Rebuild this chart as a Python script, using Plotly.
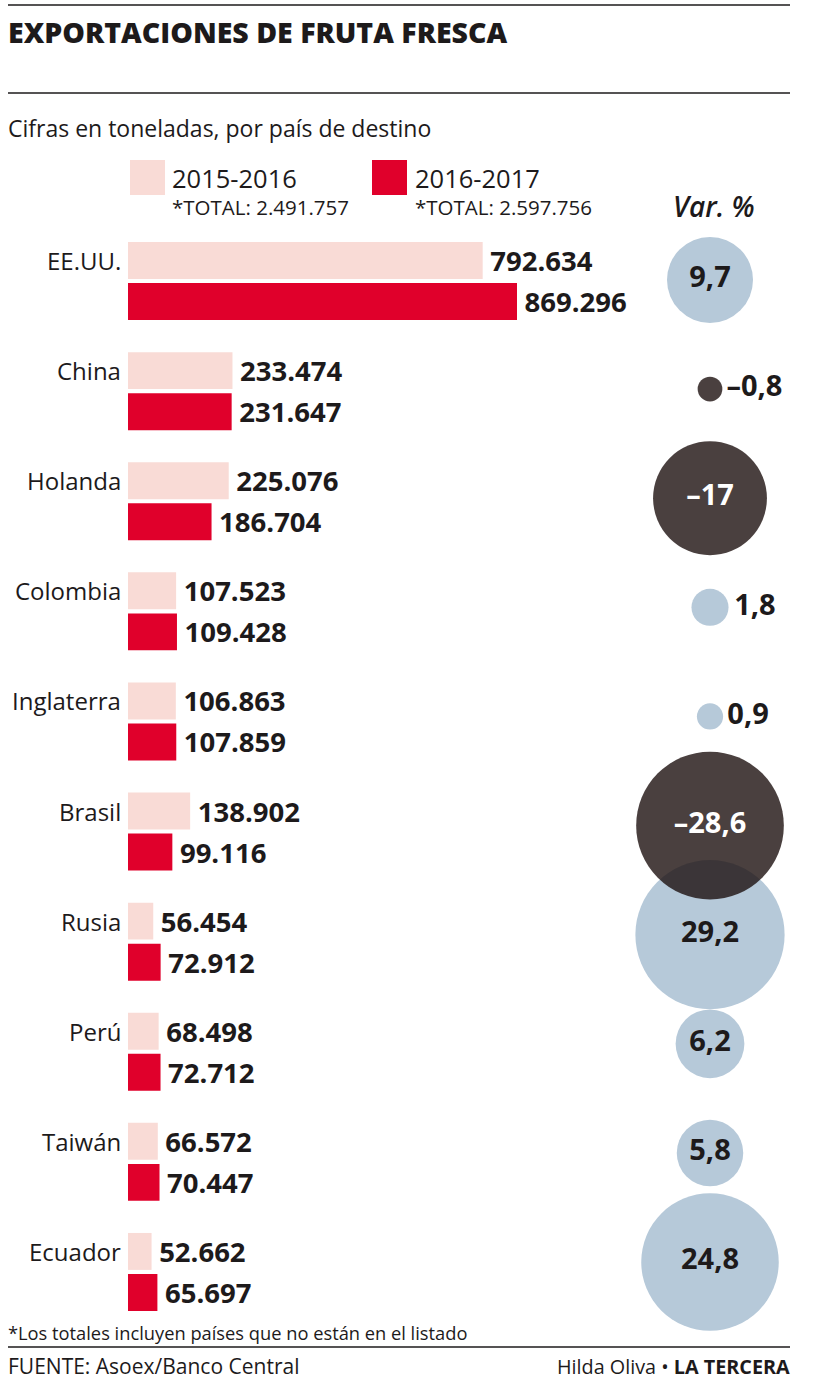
import plotly.graph_objects as go

countries = ["EE.UU.", "China", "Holanda", "Colombia", "Inglaterra",
             "Brasil", "Rusia", "Perú", "Taiwán", "Ecuador"]
exp_2015_2016 = [792634, 233474, 225076, 107523, 106863,
                 138902, 56454, 68498, 66572, 52662]
exp_2016_2017 = [869296, 231647, 186704, 109428, 107859,
                 99116, 72912, 72712, 70447, 65697]
var_pct = [9.7, -0.8, -17, 1.8, 0.9, -28.6, 29.2, 6.2, 5.8, 24.8]
series_names = ["2015-2016", "2016-2017"]
series_totals = ["*TOTAL: 2.491.757", "*TOTAL: 2.597.756"]

W, H = 820, 1383
PINK, RED = "#f9dbd6", "#e0002b"
BLUE, DARK = "#b6c9d9", "rgba(29,16,15,0.8)"
INK = "#1d1a1b"
FONT = "Open Sans"


def px(x):
    return x / W


def py(y):
    return 1 - y / H


def fmt_var(v):
    return f"{v:g}".replace("-", "–").replace(".", ",")


fig = go.Figure()
for name, vals, col in [(series_names[0], exp_2015_2016, PINK),
                        (series_names[1], exp_2016_2017, RED)]:
    fig.add_trace(go.Bar(
        y=countries, x=vals, name=name, orientation="h",
        marker=dict(color=col, line=dict(width=0)),
        texttemplate="\u2009%{x:,}", textposition="outside", constraintext="none",
        cliponaxis=False,
        outsidetextfont=dict(family=FONT, size=27.5, color=INK, weight=700),
        xaxis="x", yaxis="y", showlegend=False, hoverinfo="skip",
    ))

SIZEREF = 9.7 / (2 * 43 ** 2)
for positive in (True, False):
    idx = [i for i, v in enumerate(var_pct) if (v > 0) == positive]
    vals = [var_pct[i] for i in idx]
    fig.add_trace(go.Scatter(
        x=["Var. %"] * len(idx), y=[countries[i] for i in idx],
        mode="markers+text",
        marker=dict(size=[abs(v) for v in vals], sizemode="area", sizeref=SIZEREF,
                    color=BLUE if positive else DARK, opacity=1, line=dict(width=0)),
        text=[fmt_var(v) for v in vals],
        textposition=["middle center" if abs(v) >= 3 else "middle right" for v in vals],
        textfont=dict(family=FONT, size=29, weight=700,
                      color=[("white" if (not positive and abs(v) >= 3) else INK) for v in vals]),
        cliponaxis=False, xaxis="x2", yaxis="y2", showlegend=False, hoverinfo="skip",
    ))

annotations = []
for c in countries:
    annotations.append(dict(text=c, x=px(123), xref="paper", xanchor="right",
                            y=c, yref="y", yshift=20.5, yanchor="middle",
                            showarrow=False, font=dict(family=FONT, size=24, color=INK)))

annotations += [
    dict(text="EXPORTACIONES DE FRUTA FRESCA", x=px(6), y=py(32), xanchor="left", yanchor="middle",
         font=dict(family=FONT, size=28.5, color=INK, weight=800)),
    dict(text="Cifras en toneladas, por país de destino", x=px(6), y=py(128), xanchor="left",
         yanchor="middle", font=dict(family=FONT, size=23, color=INK)),
    dict(text=series_names[0], x=px(170), y=py(178), xanchor="left", yanchor="middle",
         font=dict(family=FONT, size=25.5, color=INK)),
    dict(text=series_totals[0], x=px(170), y=py(207), xanchor="left", yanchor="middle",
         font=dict(family=FONT, size=20.5, color=INK)),
    dict(text=series_names[1], x=px(413), y=py(178), xanchor="left", yanchor="middle",
         font=dict(family=FONT, size=25.5, color=INK)),
    dict(text=series_totals[1], x=px(413), y=py(207), xanchor="left", yanchor="middle",
         font=dict(family=FONT, size=20.5, color=INK)),
    dict(text="<i>Var. %</i>", x=px(714), y=py(206), xanchor="center", yanchor="middle",
         font=dict(family=FONT, size=28, color=INK, weight=600)),
    dict(text="*Los totales incluyen países que no están en el listado", x=px(6), y=py(1332),
         xanchor="left", yanchor="middle", font=dict(family=FONT, size=18.3, color=INK)),
    dict(text="FUENTE: Asoex/Banco Central", x=px(6), y=py(1366), xanchor="left",
         yanchor="middle", font=dict(family=FONT, size=21, color=INK)),
    dict(text="Hilda Oliva • <b>LA TERCERA</b>", x=px(792), y=py(1366), xanchor="right",
         yanchor="middle", font=dict(family=FONT, size=19.8, color=INK)),
]
for a in annotations[len(countries):]:
    a.update(xref="paper", yref="paper", showarrow=False)

shapes = [
    dict(type="line", xref="paper", yref="paper", x0=px(8), x1=px(790), y0=py(5), y1=py(5),
         line=dict(color=INK, width=1.5)),
    dict(type="line", xref="paper", yref="paper", x0=px(8), x1=px(790), y0=py(93), y1=py(93),
         line=dict(color=INK, width=1.5)),
    dict(type="line", xref="paper", yref="paper", x0=px(8), x1=px(790), y0=py(1347), y1=py(1347),
         line=dict(color=INK, width=1.5)),
    dict(type="rect", xref="paper", yref="paper", x0=px(130), x1=px(165), y0=py(160), y1=py(195),
         fillcolor=PINK, line=dict(width=0)),
    dict(type="rect", xref="paper", yref="paper", x0=px(372), x1=px(407), y0=py(160), y1=py(195),
         fillcolor=RED, line=dict(width=0)),
]

xmax = (W - 128) * 869296 / 389
fig.update_layout(
    width=W, height=H, margin=dict(l=0, r=0, t=0, b=0),
    paper_bgcolor="white", plot_bgcolor="rgba(0,0,0,0)",
    separators=",.", barmode="group", bargap=28 / 110, bargroupgap=0.1,
    xaxis=dict(domain=[px(128), 1], range=[0, xmax], visible=False, fixedrange=True),
    yaxis=dict(domain=[py(1327), py(226)], type="category", categoryarray=countries,
               range=[len(countries) - 0.5, -0.5], visible=False, fixedrange=True),
    xaxis2=dict(domain=[px(650), px(770)], type="category", range=[-0.5, 0.5],
                anchor="y2", visible=False, fixedrange=True),
    yaxis2=dict(domain=[py(1316.6), py(225.4)], type="category", categoryarray=countries,
                range=[len(countries) - 0.5, -0.5], anchor="x2", visible=False, fixedrange=True),
    annotations=annotations, shapes=shapes, showlegend=False,
)
fig.write_html("out.html", config={"displayModeBar": False},
               post_script="document.body.style.margin='0';document.body.style.padding='0';")
